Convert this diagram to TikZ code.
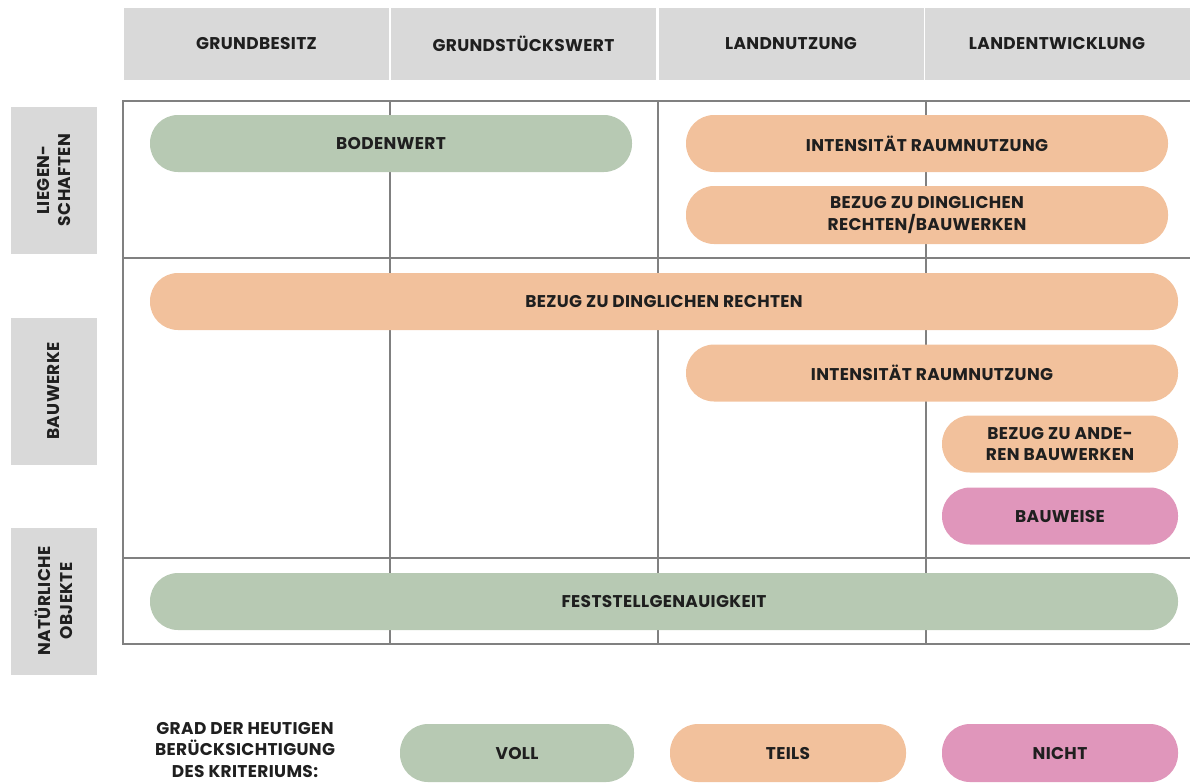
\documentclass[tikz,border=0pt]{standalone}
\usepackage{fontspec}
\setmainfont[LetterSpace=2]{Poppins}
\usetikzlibrary{positioning}

\definecolor{headgray}{RGB}{217,217,217}
\definecolor{linegray}{RGB}{128,128,128}
\definecolor{vollgreen}{RGB}{183,201,179}
\definecolor{teilsorange}{RGB}{242,193,156}
\definecolor{nichtpink}{RGB}{224,150,187}

\begin{document}
\begin{tikzpicture}[x=1pt, y=-1pt,
  every node/.style={font=\fontsize{17}{21.5}\selectfont\bfseries, text=black!88},
  head/.style={fill=headgray, minimum width=265, minimum height=72, inner sep=0},
  rowlab/.style={fill=headgray, rotate=90, minimum width=147, minimum height=86, align=center, inner sep=0},
  pill/.style={rounded corners=28, minimum height=57, align=center, inner sep=0},
  voll/.style={pill, fill=vollgreen},
  teils/.style={pill, fill=teilsorange},
  nicht/.style={pill, fill=nichtpink},
  grid/.style={draw=linegray, line width=2pt}]
\useasboundingbox (0,0) rectangle (1190,782);

% column heads
\node[head] (hGrund) at (256.5,44) {GRUNDBESITZ};
\node[head] (hWert)  at (523.5,44) {GRUNDSTÜCKSWERT};
\node[head] (hNutz)  at (791,44)   {LANDNUTZUNG};
\node[head] (hEntw)  at (1057,44)  {LANDENTWICKLUNG};

% row heads
\node[rowlab] (rLieg) at (54,180) {LIEGEN-\\SCHAFTEN};
\node[rowlab] (rBau)  at (54,391) {BAUWERKE};
\node[rowlab] (rNat)  at (54,601) {NATÜRLICHE\\OBJEKTE};

% grid
\draw[grid] (1190,101) -- (123,101) -- (123,644) -- (1190,644);
\draw[grid] (123,258) -- (1190,258);
\draw[grid] (123,558) -- (1190,558);
\foreach \cx in {390,658,926}
  \draw[grid] (\cx,101) -- (\cx,644);

% criteria
\node[voll]  (boden)  at (391,143.5) [minimum width=482] {BODENWERT};
\node[teils] (intA)   at (927,143.5) [minimum width=482] {INTENSITÄT RAUMNUTZUNG};
\node[teils] (bezDB)  at (927,215)   [minimum width=482, minimum height=58] {BEZUG ZU DINGLICHEN\\RECHTEN/BAUWERKEN};
\node[teils] (bezD)   at (664,301.5) [minimum width=1028] {BEZUG ZU DINGLICHEN RECHTEN};
\node[teils] (intB)   at (932,373)   [minimum width=492] {INTENSITÄT RAUMNUTZUNG};
\node[teils] (bezAnd) at (1060,444)  [minimum width=236] {BEZUG ZU ANDE-\\REN BAUWERKEN};
\node[nicht] (bauw)   at (1060,516)  [minimum width=236] {BAUWEISE};
\node[voll]  (fest)   at (664,601.5) [minimum width=1028] {FESTSTELLGENAUIGKEIT};

% legend
\node[align=center] (grad) at (245,750) {GRAD DER HEUTIGEN\\BERÜCKSICHTIGUNG\\DES KRITERIUMS:};
\node[voll]  (lVoll)  at (517,753)  [minimum width=234, minimum height=58] {VOLL};
\node[teils] (lTeils) at (788,753)  [minimum width=236, minimum height=58] {TEILS};
\node[nicht] (lNicht) at (1060,753) [minimum width=236, minimum height=58] {NICHT};
\end{tikzpicture}
\end{document}
